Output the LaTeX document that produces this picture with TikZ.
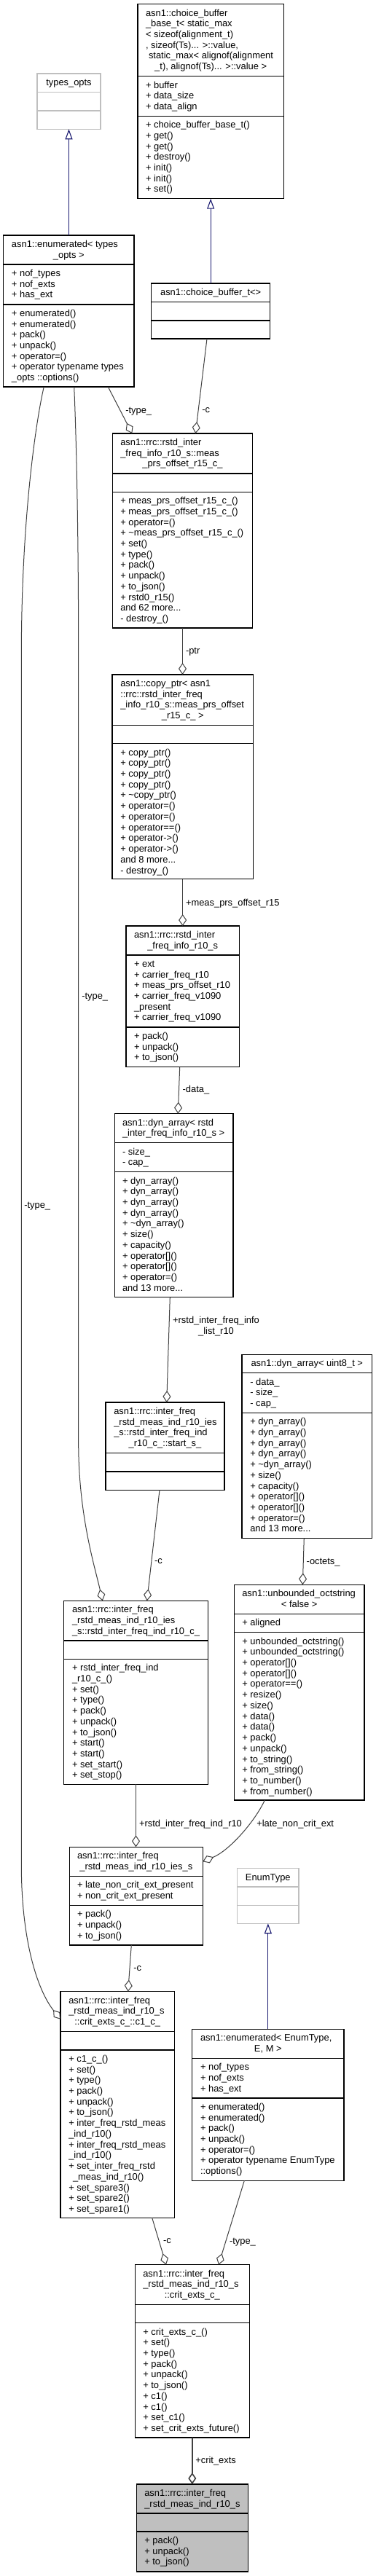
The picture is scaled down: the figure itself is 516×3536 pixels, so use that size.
\documentclass[tikz,border=0pt]{standalone}
\usepackage{fontspec}
\setmainfont{Liberation Sans}
\usetikzlibrary{arrows.meta}
\definecolor{grayc}{HTML}{BFBFBF}
\definecolor{hl}{HTML}{BFBFBF}
\definecolor{aggc}{HTML}{404040}
\definecolor{inhc}{HTML}{191970}
\newcommand\tdots{...}
\catcode`\_=12
\tikzset{
  txt/.style={font=\fontsize{12.9}{14.73}\selectfont, inner sep=0pt, outer sep=0pt, text=black},
  boxn/.style={draw=black, line width=1.1pt, inner sep=0pt, outer sep=0pt, fill=white},
  divl/.style={draw=black, line width=1.1pt},
  grayb/.style={draw=grayc},
  hlbox/.style={fill=hl},
  agg/.style={draw=aggc, line width=1pt, -{Diamond[open, length=16pt, width=11pt]}},
  aggthick/.style={agg, line width=1.6pt},
  inh/.style={draw=inhc, line width=1.1pt, {Triangle[open, length=14pt, width=10pt]}-},
}
% name, L, T, R, D1, D2, B, style
\newcommand\umlbox[8]{%
  \node[boxn, #8, anchor=north west, minimum width={#4-#2}, minimum height={#7-#3}] (#1) at (#2,#3) {};
  \draw[divl, #8] (#2,#5) -- (#4,#5) (#2,#6) -- (#4,#6);
}
\newcommand\txtlines[4]{%
  \foreach \myln [count=\myi from 0] in {#4}{%
    \node[txt, anchor=base west] (#1-\myi) at (#2,{#3+\myi*14.73}) {\myln};
  }%
}
\newcommand\ctext[4]{\node[txt, anchor=base] (#1) at (#2,#3) {#4};}
\newcommand\elabel[4]{\node[txt, anchor=base west] (#1) at (#2,#3) {#4};}
\begin{document}
\begin{tikzpicture}[x=1pt, y=-1pt]
\fill[white] (0,0) rectangle (516,3536);
\useasboundingbox (0,0) rectangle (516,3536);

% ---------- boxes ----------
\umlbox{b1}{51}{101}{138}{126.7}{152}{177.3}{grayb}
\umlbox{b2}{189}{5.7}{389.3}{104.7}{159.3}{272.7}{}
\umlbox{b3}{4.7}{323}{184}{363}{418}{531}{}
\umlbox{b4}{207.7}{389}{370.7}{414.7}{440}{465}{}
\umlbox{b5}{154.3}{595}{346.7}{650}{675.3}{862}{}
\umlbox{b6}{154}{926}{347.3}{995.3}{1020.7}{1206.7}{}
\umlbox{b7}{173}{1271}{328.3}{1311}{1410}{1464.7}{}
\umlbox{b8}{157.3}{1528.7}{320}{1568.7}{1608.7}{1780.7}{}
\umlbox{b9}{145}{1925}{308}{1994.7}{2020}{2045.3}{}
\umlbox{b10}{332}{1859.3}{510.7}{1884.7}{1939.3}{2111.3}{}
\umlbox{b11}{87.7}{2197.3}{285.3}{2252}{2277.3}{2449.3}{}
\umlbox{b12}{321.3}{2175.3}{500}{2215.3}{2240.7}{2471}{}
\umlbox{b13}{95.3}{2535.3}{278.3}{2575.3}{2615.3}{2670}{}
\umlbox{b14}{325.7}{2564.7}{410}{2590}{2615.3}{2640.3}{grayb}
\umlbox{b15}{263.7}{2785.3}{472}{2825.3}{2880}{2993.3}{}
\umlbox{b16}{83}{2733.7}{239.3}{2788.7}{2814}{3044.3}{}
\umlbox{b17}{185.3}{3108.7}{342.3}{3163.3}{3188.7}{3346}{}
\umlbox{b18}{187.3}{3410}{340.7}{3450}{3475}{3530}{hlbox}

% ---------- texts ----------
\ctext{b1t}{94.5}{117.3}{types_opts}

\txtlines{b2t}{200}{22}{asn1::choice_buffer, _base_t< static_max, < sizeof(alignment_t), {, sizeof(Ts)\tdots{} >::value,}}
\node[txt, anchor=base west] (b2t5) at (204,80.9) {static_max< alignof(alignment};
\ctext{b2t6}{289.2}{95.6}{_t), alignof(Ts)\tdots{} >::value >}
\txtlines{b2a}{200}{121}{+ buffer, + data_size, + data_align}
\txtlines{b2m}{200}{175.6}{+ choice_buffer_base_t(), + get(), + get(), + destroy(), + init(), + init(), + set()}

\txtlines{b3t}{16}{339.3}{asn1::enumerated< types}
\ctext{b3t1}{94.3}{354}{_opts >}
\txtlines{b3a}{16}{379.3}{+ nof_types, + nof_exts, + has_ext}
\txtlines{b3m}{16}{434.3}{+ enumerated(), + enumerated(), + pack(), + unpack(), + operator=(), + operator typename types, _opts ::options()}

\ctext{b4t}{289.2}{405.3}{asn1::choice_buffer_t<>}

\txtlines{b5t}{165.3}{611.3}{asn1::rrc::rstd_inter, _freq_info_r10_s::meas}
\ctext{b5t2}{250.5}{640.8}{_prs_offset_r15_c_}
\txtlines{b5m}{165.3}{691.6}{+ meas_prs_offset_r15_c_(), + meas_prs_offset_r15_c_(), + operator=(), + \textasciitilde meas_prs_offset_r15_c_(), + set(), + type(), + pack(), + unpack(), + to_json(), + rstd0_r15(), and 62 more\tdots, - destroy_()}

\txtlines{b6t}{165.3}{942.3}{asn1::copy_ptr< asn1, ::rrc::rstd_inter_freq, _info_r10_s::meas_prs_offset}
\ctext{b6t3}{250.7}{986.5}{_r15_c_ >}
\txtlines{b6m}{165.3}{1037}{+ copy_ptr(), + copy_ptr(), + copy_ptr(), + copy_ptr(), + \textasciitilde copy_ptr(), + operator=(), + operator=(), + operator==(), + operator->(), + operator->(), and 8 more\tdots, - destroy_()}

\txtlines{b7t}{184}{1287.3}{asn1::rrc::rstd_inter}
\ctext{b7t1}{250.7}{1302}{_freq_info_r10_s}
\txtlines{b7a}{184}{1327.3}{+ ext, + carrier_freq_r10, + meas_prs_offset_r10, + carrier_freq_v1090, _present, + carrier_freq_v1090}
\txtlines{b7m}{184}{1426.3}{+ pack(), + unpack(), + to_json()}

\txtlines{b8t}{168}{1545}{asn1::dyn_array< rstd, _inter_freq_info_r10_s >}
\txtlines{b8a}{168}{1585}{- size_, - cap_}
\txtlines{b8m}{168}{1625}{+ dyn_array(), + dyn_array(), + dyn_array(), + dyn_array(), + \textasciitilde dyn_array(), + size(), + capacity(), + operator[](), + operator[](), + operator=(), and 13 more\tdots}

\txtlines{b9t}{156.3}{1941.3}{asn1::rrc::inter_freq, _rstd_meas_ind_r10_ies, _s::rstd_inter_freq_ind}
\ctext{b9t3}{226.5}{1985.5}{_r10_c_::start_s_}

\ctext{b10t}{421.3}{1875.6}{asn1::dyn_array< uint8_t >}
\txtlines{b10a}{343.3}{1901}{- data_, - size_, - cap_}
\txtlines{b10m}{343.3}{1955.6}{+ dyn_array(), + dyn_array(), + dyn_array(), + dyn_array(), + \textasciitilde dyn_array(), + size(), + capacity(), + operator[](), + operator[](), + operator=(), and 13 more\tdots}

\txtlines{b11t}{99}{2213.6}{asn1::rrc::inter_freq, _rstd_meas_ind_r10_ies, _s::rstd_inter_freq_ind_r10_c_}
\txtlines{b11m}{99}{2293.6}{+ rstd_inter_freq_ind, _r10_c_(), + set(), + type(), + pack(), + unpack(), + to_json(), + start(), + start(), + set_start(), + set_stop()}

\txtlines{b12t}{332.3}{2191.6}{asn1::unbounded_octstring}
\ctext{b12t1}{410.7}{2206.3}{< false >}
\txtlines{b12a}{332.3}{2231.6}{+ aligned}
\txtlines{b12m}{332.3}{2257}{+ unbounded_octstring(), + unbounded_octstring(), + operator[](), + operator[](), + operator==(), + resize(), + size(), + data(), + data(), + pack(), + unpack(), + to_string(), + from_string(), + to_number(), + from_number()}

\txtlines{b13t}{106}{2551.6}{asn1::rrc::inter_freq}
\ctext{b13t1}{186.8}{2566.3}{_rstd_meas_ind_r10_ies_s}
\txtlines{b13a}{106}{2591.6}{+ late_non_crit_ext_present, + non_crit_ext_present}
\txtlines{b13m}{106}{2631.6}{+ pack(), + unpack(), + to_json()}

\ctext{b14t}{367.8}{2581}{EnumType}

\txtlines{b15t}{275}{2801.6}{{asn1::enumerated< EnumType,}}
\ctext{b15t1}{367.8}{2816.3}{E, M >}
\txtlines{b15a}{275}{2841.6}{+ nof_types, + nof_exts, + has_ext}
\txtlines{b15m}{275}{2896.3}{+ enumerated(), + enumerated(), + pack(), + unpack(), + operator=(), + operator typename EnumType, ::options()}

\txtlines{b16t}{94.3}{2750}{asn1::rrc::inter_freq, _rstd_meas_ind_r10_s}
\ctext{b16t2}{161.2}{2779.5}{::crit_exts_c_::c1_c_}
\txtlines{b16m}{94.3}{2830.3}{+ c1_c_(), + set(), + type(), + pack(), + unpack(), + to_json(), + inter_freq_rstd_meas, _ind_r10(), + inter_freq_rstd_meas, _ind_r10(), + set_inter_freq_rstd}
\node[txt, anchor=base west] (b16m11) at (100,{2830.3+11*14.73}) {_meas_ind_r10()};
\txtlines{b16n}{94.3}{2830.3+12*14.73}{+ set_spare3(), + set_spare2(), + set_spare1()}

\txtlines{b17t}{196.3}{3125}{asn1::rrc::inter_freq, _rstd_meas_ind_r10_s}
\ctext{b17t2}{263.8}{3154.5}{::crit_exts_c_}
\txtlines{b17m}{196.3}{3205}{+ crit_exts_c_(), + set(), + type(), + pack(), + unpack(), + to_json(), + c1(), + c1(), + set_c1(), + set_crit_exts_future()}

\txtlines{b18t}{198.3}{3426.3}{asn1::rrc::inter_freq, _rstd_meas_ind_r10_s}
\txtlines{b18m}{198.3}{3491.3}{+ pack(), + unpack(), + to_json()}

% ---------- inheritance ----------
\draw[inh] (b1.south) -- (b1.south |- b3.north);
\draw[inh] (b2.south) -- (b2.south |- b4.north);
\draw[inh] (b14.south) -- (b14.south |- b15.north);

% ---------- collaboration ----------
\draw[agg] ([xshift=143.6pt]b3.south west) -- ([xshift=27pt]b5.north west);
\draw[agg] ([xshift=76.3pt]b4.south west) -- ([xshift=114pt]b5.north west);
\draw[agg] (b5.south) -- (b5.south |- b6.north);
\draw[agg] (b6.south) -- (b6.south |- b7.north);
\draw[agg] ([xshift=73.7pt]b7.south west) -- ([xshift=87pt]b8.north west);
\draw[agg] ([xshift=76pt]b8.south west) -- ([xshift=83.7pt]b9.north west);
\draw[agg] ([xshift=74pt]b9.south west) -- ([xshift=114pt]b11.north west);
\draw[agg] ([xshift=97pt]b3.south west) .. controls (105.5,620) and (107.7,750) .. (107.7,900)
   -- (107.7,1980) .. controls (107.7,2080) and (130,2150) .. ([xshift=53pt]b11.north west);
\draw[agg] ([xshift=85.3pt]b10.south west) -- ([xshift=94pt]b12.north west);
\draw[agg] (b11.south) -- (b11.south |- b13.north);
\draw[agg] ([xshift=42pt]b12.south west) .. controls (350,2500) and (315,2540) .. ([yshift=-20pt]b13.north east);
\draw[agg] ([xshift=85pt]b13.south west) -- ([xshift=92.7pt]b16.north west);
\draw[agg] ([xshift=55.6pt]b3.south west) .. controls (52,565) and (29.3,700) .. (29.3,900)
   -- (29.3,2560) .. controls (29.3,2660) and (50,2730) .. ([yshift=-38pt]b16.north west);
\draw[agg] ([xshift=125.7pt]b16.south west) -- ([xshift=42.7pt]b17.north west);
\draw[agg] ([xshift=71.6pt]b15.south west) -- ([xshift=114.7pt]b17.north west);
\draw[aggthick] (b17.south) -- (b17.south |- b18.north);

% ---------- edge labels ----------
\elabel{l1}{172.3}{567.6}{-type_}
\elabel{l2}{277.3}{566.5}{-c}
\elabel{l3}{255}{897.3}{-ptr}
\elabel{l4}{255}{1243.3}{+meas_prs_offset_r15}
\elabel{l5}{250.7}{1499.6}{-data_}
\ctext{l6a}{296.5}{1816.3}{+rstd_inter_freq_info}
\ctext{l6b}{296.5}{1831}{_list_r10}
\elabel{l7}{112.3}{1371.3}{-type_}
\elabel{l8}{33.3}{1658.6}{-type_}
\elabel{l9}{212}{2146.2}{-c}
\elabel{l10}{420.7}{2147.3}{-octets_}
\elabel{l11}{191}{2507.3}{+rstd_inter_freq_ind_r10}
\elabel{l12}{352.3}{2507.3}{+late_non_crit_ext}
\elabel{l13}{183.3}{2705}{-c}
\elabel{l14}{224}{3079.5}{-c}
\elabel{l15}{315}{3080.6}{-type_}
\elabel{l16}{268.3}{3381.3}{+crit_exts}
\end{tikzpicture}
\end{document}
